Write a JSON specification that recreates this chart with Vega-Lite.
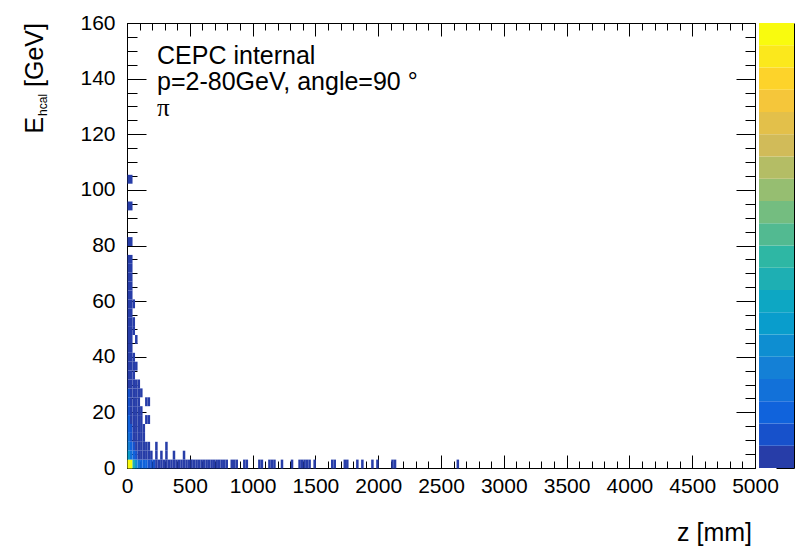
{
  "$schema": "https://vega.github.io/schema/vega-lite/v6.json",
  "autosize": {"type": "none"},
  "padding": {"left": 127, "top": 23, "right": 13, "bottom": 81},
  "background": "white",
  "width": 667,
  "height": 445,
  "config": {
    "view": {"stroke": null},
    "font": "Liberation Sans",
    "axis": {
      "grid": false,
      "title": null,
      "domainColor": "black",
      "domainWidth": 1,
      "tickColor": "black",
      "tickWidth": 1,
      "labelFont": "Liberation Sans",
      "labelFontSize": 21,
      "labelColor": "black",
      "labelFlush": false,
      "labelOverlap": false,
      "zindex": 1
    }
  },
  "datasets": {
    "cells": [
      {"z": 0, "e": 0, "n": 885}, {"z": 20, "e": 0, "n": 860}, {"z": 40, "e": 0, "n": 390}, {"z": 60, "e": 0, "n": 250},
      {"z": 80, "e": 0, "n": 140}, {"z": 100, "e": 0, "n": 120}, {"z": 120, "e": 0, "n": 100}, {"z": 140, "e": 0, "n": 90},
      {"z": 160, "e": 0, "n": 75}, {"z": 180, "e": 0, "n": 60}, {"z": 200, "e": 0, "n": 48}, {"z": 220, "e": 0, "n": 40},
      {"z": 240, "e": 0, "n": 36}, {"z": 260, "e": 0, "n": 33}, {"z": 280, "e": 0, "n": 30}, {"z": 300, "e": 0, "n": 27},
      {"z": 320, "e": 0, "n": 25}, {"z": 340, "e": 0, "n": 23}, {"z": 360, "e": 0, "n": 21}, {"z": 380, "e": 0, "n": 19},
      {"z": 400, "e": 0, "n": 17}, {"z": 420, "e": 0, "n": 15}, {"z": 440, "e": 0, "n": 14}, {"z": 460, "e": 0, "n": 12},
      {"z": 480, "e": 0, "n": 11}, {"z": 500, "e": 0, "n": 10}, {"z": 520, "e": 0, "n": 9}, {"z": 540, "e": 0, "n": 8},
      {"z": 560, "e": 0, "n": 8}, {"z": 580, "e": 0, "n": 7}, {"z": 600, "e": 0, "n": 6}, {"z": 620, "e": 0, "n": 6},
      {"z": 640, "e": 0, "n": 5}, {"z": 660, "e": 0, "n": 5}, {"z": 680, "e": 0, "n": 4}, {"z": 700, "e": 0, "n": 4},
      {"z": 720, "e": 0, "n": 3}, {"z": 740, "e": 0, "n": 3}, {"z": 760, "e": 0, "n": 2}, {"z": 780, "e": 0, "n": 2},
      {"z": 820, "e": 0, "n": 2}, {"z": 840, "e": 0, "n": 1}, {"z": 860, "e": 0, "n": 1}, {"z": 920, "e": 0, "n": 1},
      {"z": 940, "e": 0, "n": 1}, {"z": 1040, "e": 0, "n": 1}, {"z": 1060, "e": 0, "n": 1}, {"z": 1120, "e": 0, "n": 1},
      {"z": 1140, "e": 0, "n": 1}, {"z": 1160, "e": 0, "n": 1}, {"z": 1220, "e": 0, "n": 1}, {"z": 1300, "e": 0, "n": 1},
      {"z": 1360, "e": 0, "n": 1}, {"z": 1380, "e": 0, "n": 1}, {"z": 1400, "e": 0, "n": 1}, {"z": 1420, "e": 0, "n": 1},
      {"z": 1440, "e": 0, "n": 1}, {"z": 1480, "e": 0, "n": 1}, {"z": 1620, "e": 0, "n": 1}, {"z": 1640, "e": 0, "n": 1},
      {"z": 1720, "e": 0, "n": 1}, {"z": 1740, "e": 0, "n": 1}, {"z": 1820, "e": 0, "n": 1}, {"z": 1860, "e": 0, "n": 1},
      {"z": 1940, "e": 0, "n": 1}, {"z": 1980, "e": 0, "n": 1}, {"z": 2100, "e": 0, "n": 1}, {"z": 2120, "e": 0, "n": 1},
      {"z": 2620, "e": 0, "n": 1},
      {"z": 0, "e": 3.2, "n": 290}, {"z": 20, "e": 3.2, "n": 150}, {"z": 40, "e": 3.2, "n": 100}, {"z": 60, "e": 3.2, "n": 55},
      {"z": 80, "e": 3.2, "n": 40}, {"z": 100, "e": 3.2, "n": 30}, {"z": 120, "e": 3.2, "n": 22}, {"z": 140, "e": 3.2, "n": 16},
      {"z": 160, "e": 3.2, "n": 10}, {"z": 180, "e": 3.2, "n": 6}, {"z": 220, "e": 3.2, "n": 2}, {"z": 260, "e": 3.2, "n": 1},
      {"z": 300, "e": 3.2, "n": 1}, {"z": 360, "e": 3.2, "n": 1}, {"z": 440, "e": 3.2, "n": 1},
      {"z": 0, "e": 6.4, "n": 190}, {"z": 20, "e": 6.4, "n": 95}, {"z": 40, "e": 6.4, "n": 50}, {"z": 60, "e": 6.4, "n": 35},
      {"z": 80, "e": 6.4, "n": 25}, {"z": 100, "e": 6.4, "n": 18}, {"z": 120, "e": 6.4, "n": 12}, {"z": 140, "e": 6.4, "n": 8},
      {"z": 160, "e": 6.4, "n": 5}, {"z": 220, "e": 6.4, "n": 2}, {"z": 300, "e": 6.4, "n": 1},
      {"z": 0, "e": 9.6, "n": 140}, {"z": 20, "e": 9.6, "n": 60}, {"z": 40, "e": 9.6, "n": 35}, {"z": 60, "e": 9.6, "n": 25},
      {"z": 80, "e": 9.6, "n": 18}, {"z": 100, "e": 9.6, "n": 10}, {"z": 120, "e": 9.6, "n": 6},
      {"z": 0, "e": 12.8, "n": 110}, {"z": 20, "e": 12.8, "n": 45}, {"z": 40, "e": 12.8, "n": 28}, {"z": 60, "e": 12.8, "n": 18},
      {"z": 80, "e": 12.8, "n": 12}, {"z": 100, "e": 12.8, "n": 7}, {"z": 120, "e": 12.8, "n": 3},
      {"z": 0, "e": 16, "n": 90}, {"z": 20, "e": 16, "n": 35}, {"z": 40, "e": 16, "n": 22}, {"z": 60, "e": 16, "n": 14},
      {"z": 80, "e": 16, "n": 9}, {"z": 100, "e": 16, "n": 5}, {"z": 140, "e": 16, "n": 1}, {"z": 160, "e": 16, "n": 1},
      {"z": 0, "e": 19.2, "n": 75}, {"z": 20, "e": 19.2, "n": 30}, {"z": 40, "e": 19.2, "n": 18}, {"z": 60, "e": 19.2, "n": 10},
      {"z": 80, "e": 19.2, "n": 6}, {"z": 100, "e": 19.2, "n": 2},
      {"z": 0, "e": 22.4, "n": 65}, {"z": 20, "e": 22.4, "n": 25}, {"z": 40, "e": 22.4, "n": 14}, {"z": 60, "e": 22.4, "n": 8},
      {"z": 80, "e": 22.4, "n": 4}, {"z": 140, "e": 22.4, "n": 1}, {"z": 160, "e": 22.4, "n": 1},
      {"z": 0, "e": 25.6, "n": 60}, {"z": 20, "e": 25.6, "n": 22}, {"z": 40, "e": 25.6, "n": 12}, {"z": 60, "e": 25.6, "n": 6},
      {"z": 80, "e": 25.6, "n": 3}, {"z": 100, "e": 25.6, "n": 1},
      {"z": 0, "e": 28.8, "n": 40}, {"z": 20, "e": 28.8, "n": 18}, {"z": 40, "e": 28.8, "n": 10}, {"z": 60, "e": 28.8, "n": 5},
      {"z": 80, "e": 28.8, "n": 2},
      {"z": 0, "e": 32, "n": 35}, {"z": 20, "e": 32, "n": 15}, {"z": 40, "e": 32, "n": 6},
      {"z": 0, "e": 35.2, "n": 30}, {"z": 20, "e": 35.2, "n": 12}, {"z": 40, "e": 35.2, "n": 5}, {"z": 60, "e": 35.2, "n": 2},
      {"z": 0, "e": 38.4, "n": 26}, {"z": 20, "e": 38.4, "n": 10}, {"z": 40, "e": 38.4, "n": 3},
      {"z": 0, "e": 41.6, "n": 22}, {"z": 20, "e": 41.6, "n": 8},
      {"z": 0, "e": 44.8, "n": 20}, {"z": 20, "e": 44.8, "n": 7}, {"z": 60, "e": 44.8, "n": 1},
      {"z": 0, "e": 48, "n": 17}, {"z": 20, "e": 48, "n": 6}, {"z": 40, "e": 48, "n": 1},
      {"z": 0, "e": 51.2, "n": 15}, {"z": 20, "e": 51.2, "n": 5}, {"z": 40, "e": 51.2, "n": 1},
      {"z": 0, "e": 54.4, "n": 12}, {"z": 20, "e": 54.4, "n": 4},
      {"z": 0, "e": 57.6, "n": 10}, {"z": 20, "e": 57.6, "n": 4}, {"z": 40, "e": 57.6, "n": 1},
      {"z": 0, "e": 60.8, "n": 9}, {"z": 20, "e": 60.8, "n": 3},
      {"z": 0, "e": 64, "n": 7}, {"z": 20, "e": 64, "n": 2},
      {"z": 0, "e": 67.2, "n": 6}, {"z": 20, "e": 67.2, "n": 1},
      {"z": 0, "e": 70.4, "n": 4}, {"z": 20, "e": 70.4, "n": 1},
      {"z": 0, "e": 73.6, "n": 3}, {"z": 20, "e": 73.6, "n": 1},
      {"z": 0, "e": 80, "n": 1}, {"z": 20, "e": 80, "n": 1},
      {"z": 0, "e": 92.8, "n": 1}, {"z": 20, "e": 92.8, "n": 1},
      {"z": 0, "e": 102.4, "n": 1}, {"z": 20, "e": 102.4, "n": 1}
    ],
    "levels": [
      {"level": 0, "lo": 0, "hi": 44.5}, {"level": 1, "lo": 44.5, "hi": 89}, {"level": 2, "lo": 89, "hi": 133.5},
      {"level": 3, "lo": 133.5, "hi": 178}, {"level": 4, "lo": 178, "hi": 222.5}, {"level": 5, "lo": 222.5, "hi": 267},
      {"level": 6, "lo": 267, "hi": 311.5}, {"level": 7, "lo": 311.5, "hi": 356}, {"level": 8, "lo": 356, "hi": 400.5},
      {"level": 9, "lo": 400.5, "hi": 445}, {"level": 10, "lo": 445, "hi": 489.5}, {"level": 11, "lo": 489.5, "hi": 534},
      {"level": 12, "lo": 534, "hi": 578.5}, {"level": 13, "lo": 578.5, "hi": 623}, {"level": 14, "lo": 623, "hi": 667.5},
      {"level": 15, "lo": 667.5, "hi": 712}, {"level": 16, "lo": 712, "hi": 756.5}, {"level": 17, "lo": 756.5, "hi": 801},
      {"level": 18, "lo": 801, "hi": 845.5}, {"level": 19, "lo": 845.5, "hi": 890}
    ]
  },
  "resolve": {
    "scale": {"x": "independent", "y": "independent", "color": "independent"},
    "axis": {"x": "independent", "y": "independent"}
  },
  "layer": [
    {
      "data": {"name": "cells"},
      "mark": {"type": "rect"},
      "encoding": {
        "x": {
          "field": "z", "type": "quantitative", "bin": {"binned": true, "step": 20},
          "scale": {"domain": [0, 5000], "range": [0, 628], "nice": false, "zero": false},
          "axis": {"orient": "bottom", "values": [0, 500, 1000, 1500, 2000, 2500, 3000, 3500, 4000, 4500, 5000], "format": "d", "tickSize": -13, "labelPadding": 20}
        },
        "y": {
          "field": "e", "type": "quantitative", "bin": {"binned": true, "step": 3.2},
          "scale": {"domain": [0, 160], "nice": false, "zero": false},
          "axis": {"orient": "left", "values": [0, 20, 40, 60, 80, 100, 120, 140, 160], "format": "d", "tickSize": -19, "labelPadding": 31}
        },
        "color": {
          "field": "n", "type": "quantitative",
          "scale": {"type": "quantize", "domain": [0, 890], "nice": false, "zero": false,
            "range": ["#273da8", "#1751cb", "#1063dc", "#1271d9", "#1480d6", "#0e8ed1", "#099dcc", "#0da7c3", "#1eafb3", "#2eb7a4", "#52ba91", "#74bd80", "#96be71", "#b4bd65", "#d1bb59", "#e3c04a", "#f5c63a", "#fdd32a", "#fbe81c", "#f9fb0e"]},
          "legend": null
        }
      }
    },
    {
      "data": {"values": [{}]},
      "mark": {"type": "text", "text": "CEPC internal", "font": "Liberation Sans", "fontSize": 25, "align": "left", "baseline": "alphabetic", "color": "black"},
      "encoding": {
        "x": {"datum": 239, "type": "quantitative", "scale": {"domain": [0, 5000], "range": [0, 628], "nice": false, "zero": false},
          "axis": {"orient": "bottom", "values": [0, 100, 200, 300, 400, 500, 600, 700, 800, 900, 1000, 1100, 1200, 1300, 1400, 1500, 1600, 1700, 1800, 1900, 2000, 2100, 2200, 2300, 2400, 2500, 2600, 2700, 2800, 2900, 3000, 3100, 3200, 3300, 3400, 3500, 3600, 3700, 3800, 3900, 4000, 4100, 4200, 4300, 4400, 4500, 4600, 4700, 4800, 4900, 5000], "tickSize": -7, "labels": false, "domain": false}},
        "y": {"datum": 145.4, "type": "quantitative", "scale": {"domain": [0, 160], "nice": false, "zero": false},
          "axis": {"orient": "left", "values": [0, 5, 10, 15, 20, 25, 30, 35, 40, 45, 50, 55, 60, 65, 70, 75, 80, 85, 90, 95, 100, 105, 110, 115, 120, 125, 130, 135, 140, 145, 150, 155, 160], "tickSize": -10, "labels": false, "domain": false}}
      }
    },
    {
      "data": {"values": [{}]},
      "mark": {"type": "text", "text": "p=2-80GeV, angle=90 °", "font": "Liberation Sans", "fontSize": 25, "align": "left", "baseline": "alphabetic", "color": "black"},
      "encoding": {
        "x": {"datum": 239, "type": "quantitative", "scale": {"domain": [0, 5000], "range": [0, 628], "nice": false, "zero": false},
          "axis": {"orient": "top", "values": [0, 500, 1000, 1500, 2000, 2500, 3000, 3500, 4000, 4500, 5000], "tickSize": -13, "labels": false}},
        "y": {"datum": 135.9, "type": "quantitative", "scale": {"domain": [0, 160], "nice": false, "zero": false},
          "axis": {"orient": "right", "offset": -39, "values": [0, 20, 40, 60, 80, 100, 120, 140, 160], "tickSize": -19, "labels": false}}
      }
    },
    {
      "data": {"values": [{}]},
      "mark": {"type": "text", "text": "π", "font": "Liberation Serif", "fontSize": 25, "align": "left", "baseline": "alphabetic", "color": "black"},
      "encoding": {
        "x": {"datum": 239, "type": "quantitative", "scale": {"domain": [0, 5000], "range": [0, 628], "nice": false, "zero": false},
          "axis": {"orient": "top", "values": [0, 100, 200, 300, 400, 500, 600, 700, 800, 900, 1000, 1100, 1200, 1300, 1400, 1500, 1600, 1700, 1800, 1900, 2000, 2100, 2200, 2300, 2400, 2500, 2600, 2700, 2800, 2900, 3000, 3100, 3200, 3300, 3400, 3500, 3600, 3700, 3800, 3900, 4000, 4100, 4200, 4300, 4400, 4500, 4600, 4700, 4800, 4900, 5000], "tickSize": -7, "labels": false, "domain": false}},
        "y": {"datum": 126.6, "type": "quantitative", "scale": {"domain": [0, 160], "nice": false, "zero": false},
          "axis": {"orient": "right", "offset": -39, "values": [0, 5, 10, 15, 20, 25, 30, 35, 40, 45, 50, 55, 60, 65, 70, 75, 80, 85, 90, 95, 100, 105, 110, 115, 120, 125, 130, 135, 140, 145, 150, 155, 160], "tickSize": -10, "labels": false, "domain": false}}
      }
    },
    {
      "data": {"values": [{}]},
      "mark": {"type": "text", "text": "E", "font": "Liberation Sans", "fontSize": 25, "angle": 270, "align": "right", "baseline": "alphabetic", "color": "black"},
      "encoding": {
        "x": {"datum": -671, "type": "quantitative", "scale": {"domain": [0, 5000], "range": [0, 628], "nice": false, "zero": false}, "axis": null},
        "y": {"datum": 126.3, "type": "quantitative", "scale": {"domain": [0, 160], "nice": false, "zero": false}, "axis": null}
      }
    },
    {
      "data": {"values": [{}]},
      "mark": {"type": "text", "text": "hcal", "font": "Liberation Sans", "fontSize": 12, "angle": 270, "align": "left", "baseline": "alphabetic", "color": "black"},
      "encoding": {
        "x": {"datum": -636, "type": "quantitative", "scale": {"domain": [0, 5000], "range": [0, 628], "nice": false, "zero": false}, "axis": null},
        "y": {"datum": 126.6, "type": "quantitative", "scale": {"domain": [0, 160], "nice": false, "zero": false}, "axis": null}
      }
    },
    {
      "data": {"values": [{}]},
      "mark": {"type": "text", "text": "[GeV]", "font": "Liberation Sans", "fontSize": 25, "angle": 270, "align": "right", "baseline": "alphabetic", "color": "black"},
      "encoding": {
        "x": {"datum": -671, "type": "quantitative", "scale": {"domain": [0, 5000], "range": [0, 628], "nice": false, "zero": false}, "axis": null},
        "y": {"datum": 160, "type": "quantitative", "scale": {"domain": [0, 160], "nice": false, "zero": false}, "axis": null}
      }
    },
    {
      "data": {"values": [{}]},
      "mark": {"type": "text", "text": "z [mm]", "font": "Liberation Sans", "fontSize": 25, "align": "right", "baseline": "alphabetic", "color": "black"},
      "encoding": {
        "x": {"datum": 4976, "type": "quantitative", "scale": {"domain": [0, 5000], "range": [0, 628], "nice": false, "zero": false}, "axis": null},
        "y": {"datum": -26.2, "type": "quantitative", "scale": {"domain": [0, 160], "nice": false, "zero": false}, "axis": null}
      }
    },
    {
      "data": {"name": "levels"},
      "mark": {"type": "rect"},
      "encoding": {
        "x": {"datum": 0, "type": "quantitative", "scale": {"domain": [0, 1], "range": [632, 667], "nice": false, "zero": false}, "axis": null},
        "x2": {"datum": 1},
        "y": {"field": "lo", "type": "quantitative", "scale": {"domain": [0, 890], "nice": false, "zero": false},
          "axis": {"orient": "right", "values": [0, 100, 200, 300, 400, 500, 600, 700, 800], "tickSize": -18, "labels": false}},
        "y2": {"field": "hi"},
        "color": {
          "field": "level", "type": "ordinal",
          "scale": {"domain": [0, 1, 2, 3, 4, 5, 6, 7, 8, 9, 10, 11, 12, 13, 14, 15, 16, 17, 18, 19],
            "range": ["#273da8", "#1751cb", "#1063dc", "#1271d9", "#1480d6", "#0e8ed1", "#099dcc", "#0da7c3", "#1eafb3", "#2eb7a4", "#52ba91", "#74bd80", "#96be71", "#b4bd65", "#d1bb59", "#e3c04a", "#f5c63a", "#fdd32a", "#fbe81c", "#f9fb0e"]},
          "legend": null
        }
      }
    }
  ]
}
